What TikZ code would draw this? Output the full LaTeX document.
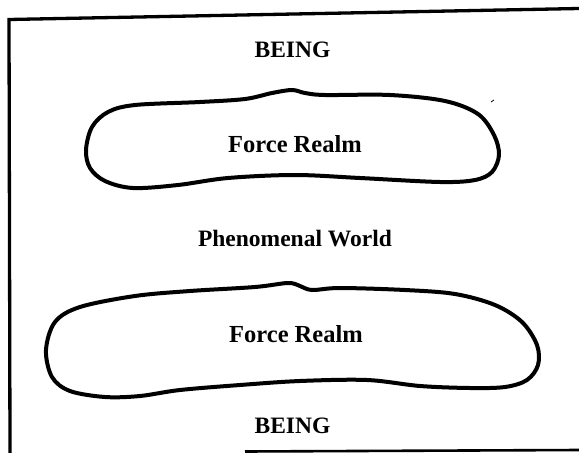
\documentclass[tikz,border=0pt]{standalone}
\usepackage{fontspec}
\setmainfont{Liberation Serif}
\begin{document}
\begin{tikzpicture}[x=1pt,y=-1pt,
  lbl/.style={font=\bfseries\fontsize{23.5}{28}\selectfont, anchor=base, inner sep=0pt},
  flbl/.style={font=\bfseries\fontsize{24.5}{29}\selectfont, anchor=base, inner sep=0pt},
  blob/.style={line width=4pt, line join=round},
  frame/.style={line width=3.3pt, line cap=butt}]
\useasboundingbox (0,0) rectangle (579,453);
% frame
\coordinate (fbl) at (10,453);
\coordinate (ftl) at (9,19.5);
\coordinate (ftr) at (579,8.5);
\coordinate (fbs) at (245,451.5);
\coordinate (fbe) at (579,450);
\draw[frame, line join=miter] (fbl) -- (ftl) -- (ftr);
\draw[frame, line width=2.6pt] (fbs) -- (fbe);
% upper force realm outline
\draw[blob] plot[smooth cycle, tension=0.55] coordinates {
 (86,150) (92,127) (108,112) (135,105) (200,102) (245,99) (272,93) (292,90)
 (305,93) (325,95) (390,95) (445,101) (478,114) (494,135) (499,155)
 (492,172) (475,180) (440,182) (360,178) (295,175) (228,178) (178,185)
 (133,188) (105,181) (90,168)};
% lower force realm outline
\draw[blob] plot[smooth cycle, tension=0.55] coordinates {
 (46,350) (55,322) (80,307) (135,296) (190,291) (255,287) (288,283) (300,286)
 (312,290) (340,288) (405,290) (455,294) (495,305) (522,322) (537,345)
 (538,365) (527,380) (505,387) (470,388) (420,386) (367,380) (300,381)
 (240,385) (180,390) (140,396) (105,397) (70,391) (52,377)};
% speck
\draw[line width=0.8pt] (491,102) -- (494,100);
% labels
\node[lbl] (being1) at (292.5,57.3) {BEING};
\node[flbl] (force1) at (295,152.3) {Force Realm};
\node[lbl] (phen) at (295,246.7) {Phenomenal World};
\node[flbl] (force2) at (296,342) {Force Realm};
\node[lbl] (being2) at (292.5,433) {BEING};
\end{tikzpicture}
\end{document}
